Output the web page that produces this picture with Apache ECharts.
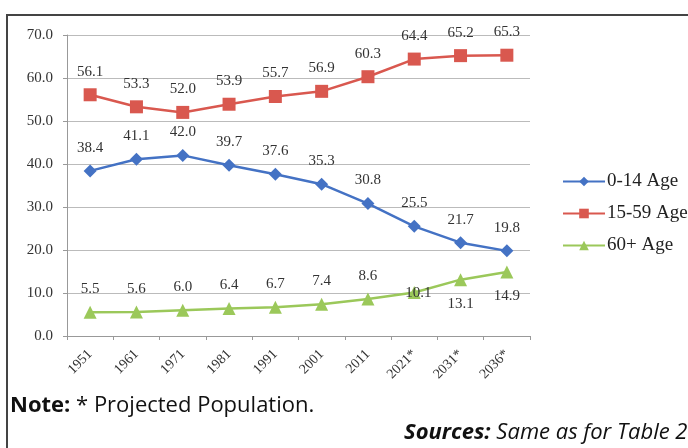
<!DOCTYPE html>
<html lang="en">
<head>
	<meta charset="UTF-8">
	<title>Age structure</title>
	<script src="https://cdn.jsdelivr.net/npm/echarts@6/dist/echarts.min.js"></script>
	<style>
		html, body { margin:0; padding:0; background:#fff; }
	</style>
</head>
<body>
	<div id="main" style="width:688px; height:448px"></div>
	<script>
		// data
		var years = ["1951","1961","1971","1981","1991","2001","2011","2021*","2031*","2036*"];
		var age0_14 = [38.4, 41.1, 42.0, 39.7, 37.6, 35.3, 30.8, 25.5, 21.7, 19.8];
		var age15_59 = [56.1, 53.3, 52.0, 53.9, 55.7, 56.9, 60.3, 64.4, 65.2, 65.3];
		var age60 = [5.5, 5.6, 6.0, 6.4, 6.7, 7.4, 8.6, 10.1, 13.1, 14.9];

		var serif = "'Liberation Serif', 'DejaVu Serif', serif";
		var sans = "'Open Sans', 'Noto Sans', sans-serif";
		var fmt1 = function(p){ return Number(p.value).toFixed(1); };
		var labelStyle = { show:true, position:"top", distance:9, fontFamily:serif, fontSize:15, color:"#333", formatter:fmt1 };

		// last projected points of 60+ sit in/below the marker
		var age60Data = age60.map(function(v, i){
			if (i == 7) return { value:v, label:{ position:"inside", offset:[4,0] } };
			if (i > 7) return { value:v, label:{ position:"bottom", distance:10 } };
			return v;
		});

		var myChart = echarts.init(document.getElementById("main"));
		myChart.setOption({
			animation:false,
			grid:{ left:67, right:158, top:35, bottom:112 },
			legend:{
				orient:"vertical",
				left:557, top:167,
				itemWidth:42, itemHeight:12, itemGap:13,
				textStyle:{ fontFamily:serif, fontSize:19, color:"#222", padding:[0,0,0,-3] },
				data:["0-14 Age","15-59 Age","60+ Age"]
			},
			xAxis:{
				type:"category",
				data:years,
				axisLine:{ lineStyle:{ color:"#999" } },
				axisTick:{ show:true, length:4, lineStyle:{ color:"#999" } },
				axisLabel:{ rotate:45, margin:16, fontFamily:serif, fontSize:14, color:"#333" }
			},
			yAxis:{
				type:"value",
				min:0, max:70, interval:10,
				axisLine:{ show:true, lineStyle:{ color:"#999" } },
				axisTick:{ show:true, length:4, lineStyle:{ color:"#999" } },
				splitLine:{ lineStyle:{ color:"#bbb" } },
				axisLabel:{ margin:14, fontFamily:serif, fontSize:15, color:"#333",
					formatter:function(v){ return v.toFixed(1); } }
			},
			graphic:[
				{ type:"rect", shape:{ x:7, y:15, width:700, height:460 },
					style:{ fill:"none", stroke:"#444", lineWidth:2 }, silent:true },
				{ type:"text", left:10, top:395,
					style:{ text:"{b|Note:} * Projected Population.", fontFamily:sans, fontSize:22, fill:"#111",
						rich:{ b:{ fontWeight:"bold", fontFamily:sans, fontSize:22 } } } },
				{ type:"text", left:404, top:422,
					style:{ text:"{b|Sources:} Same as for Table 2", fontFamily:sans, fontSize:22, fontStyle:"italic", fill:"#111",
						rich:{ b:{ fontWeight:"bold", fontStyle:"italic", fontFamily:sans, fontSize:22 } } } }
			],
			series:[{
				name:"0-14 Age",
				type:"line",
				data:age0_14,
				symbol:"diamond", symbolSize:13,
				itemStyle:{ color:"#4472C4" },
				lineStyle:{ width:2.5, color:"#4472C4" },
				label:labelStyle
			},{
				name:"15-59 Age",
				type:"line",
				data:age15_59,
				symbol:"rect", symbolSize:13,
				itemStyle:{ color:"#D9584F" },
				lineStyle:{ width:2.5, color:"#D9584F" },
				label:labelStyle
			},{
				name:"60+ Age",
				type:"line",
				data:age60Data,
				symbol:"triangle", symbolSize:13,
				itemStyle:{ color:"#9BC85A" },
				lineStyle:{ width:2.5, color:"#9BC85A" },
				label:labelStyle
			}]
		});
	</script>
</body>
</html>
